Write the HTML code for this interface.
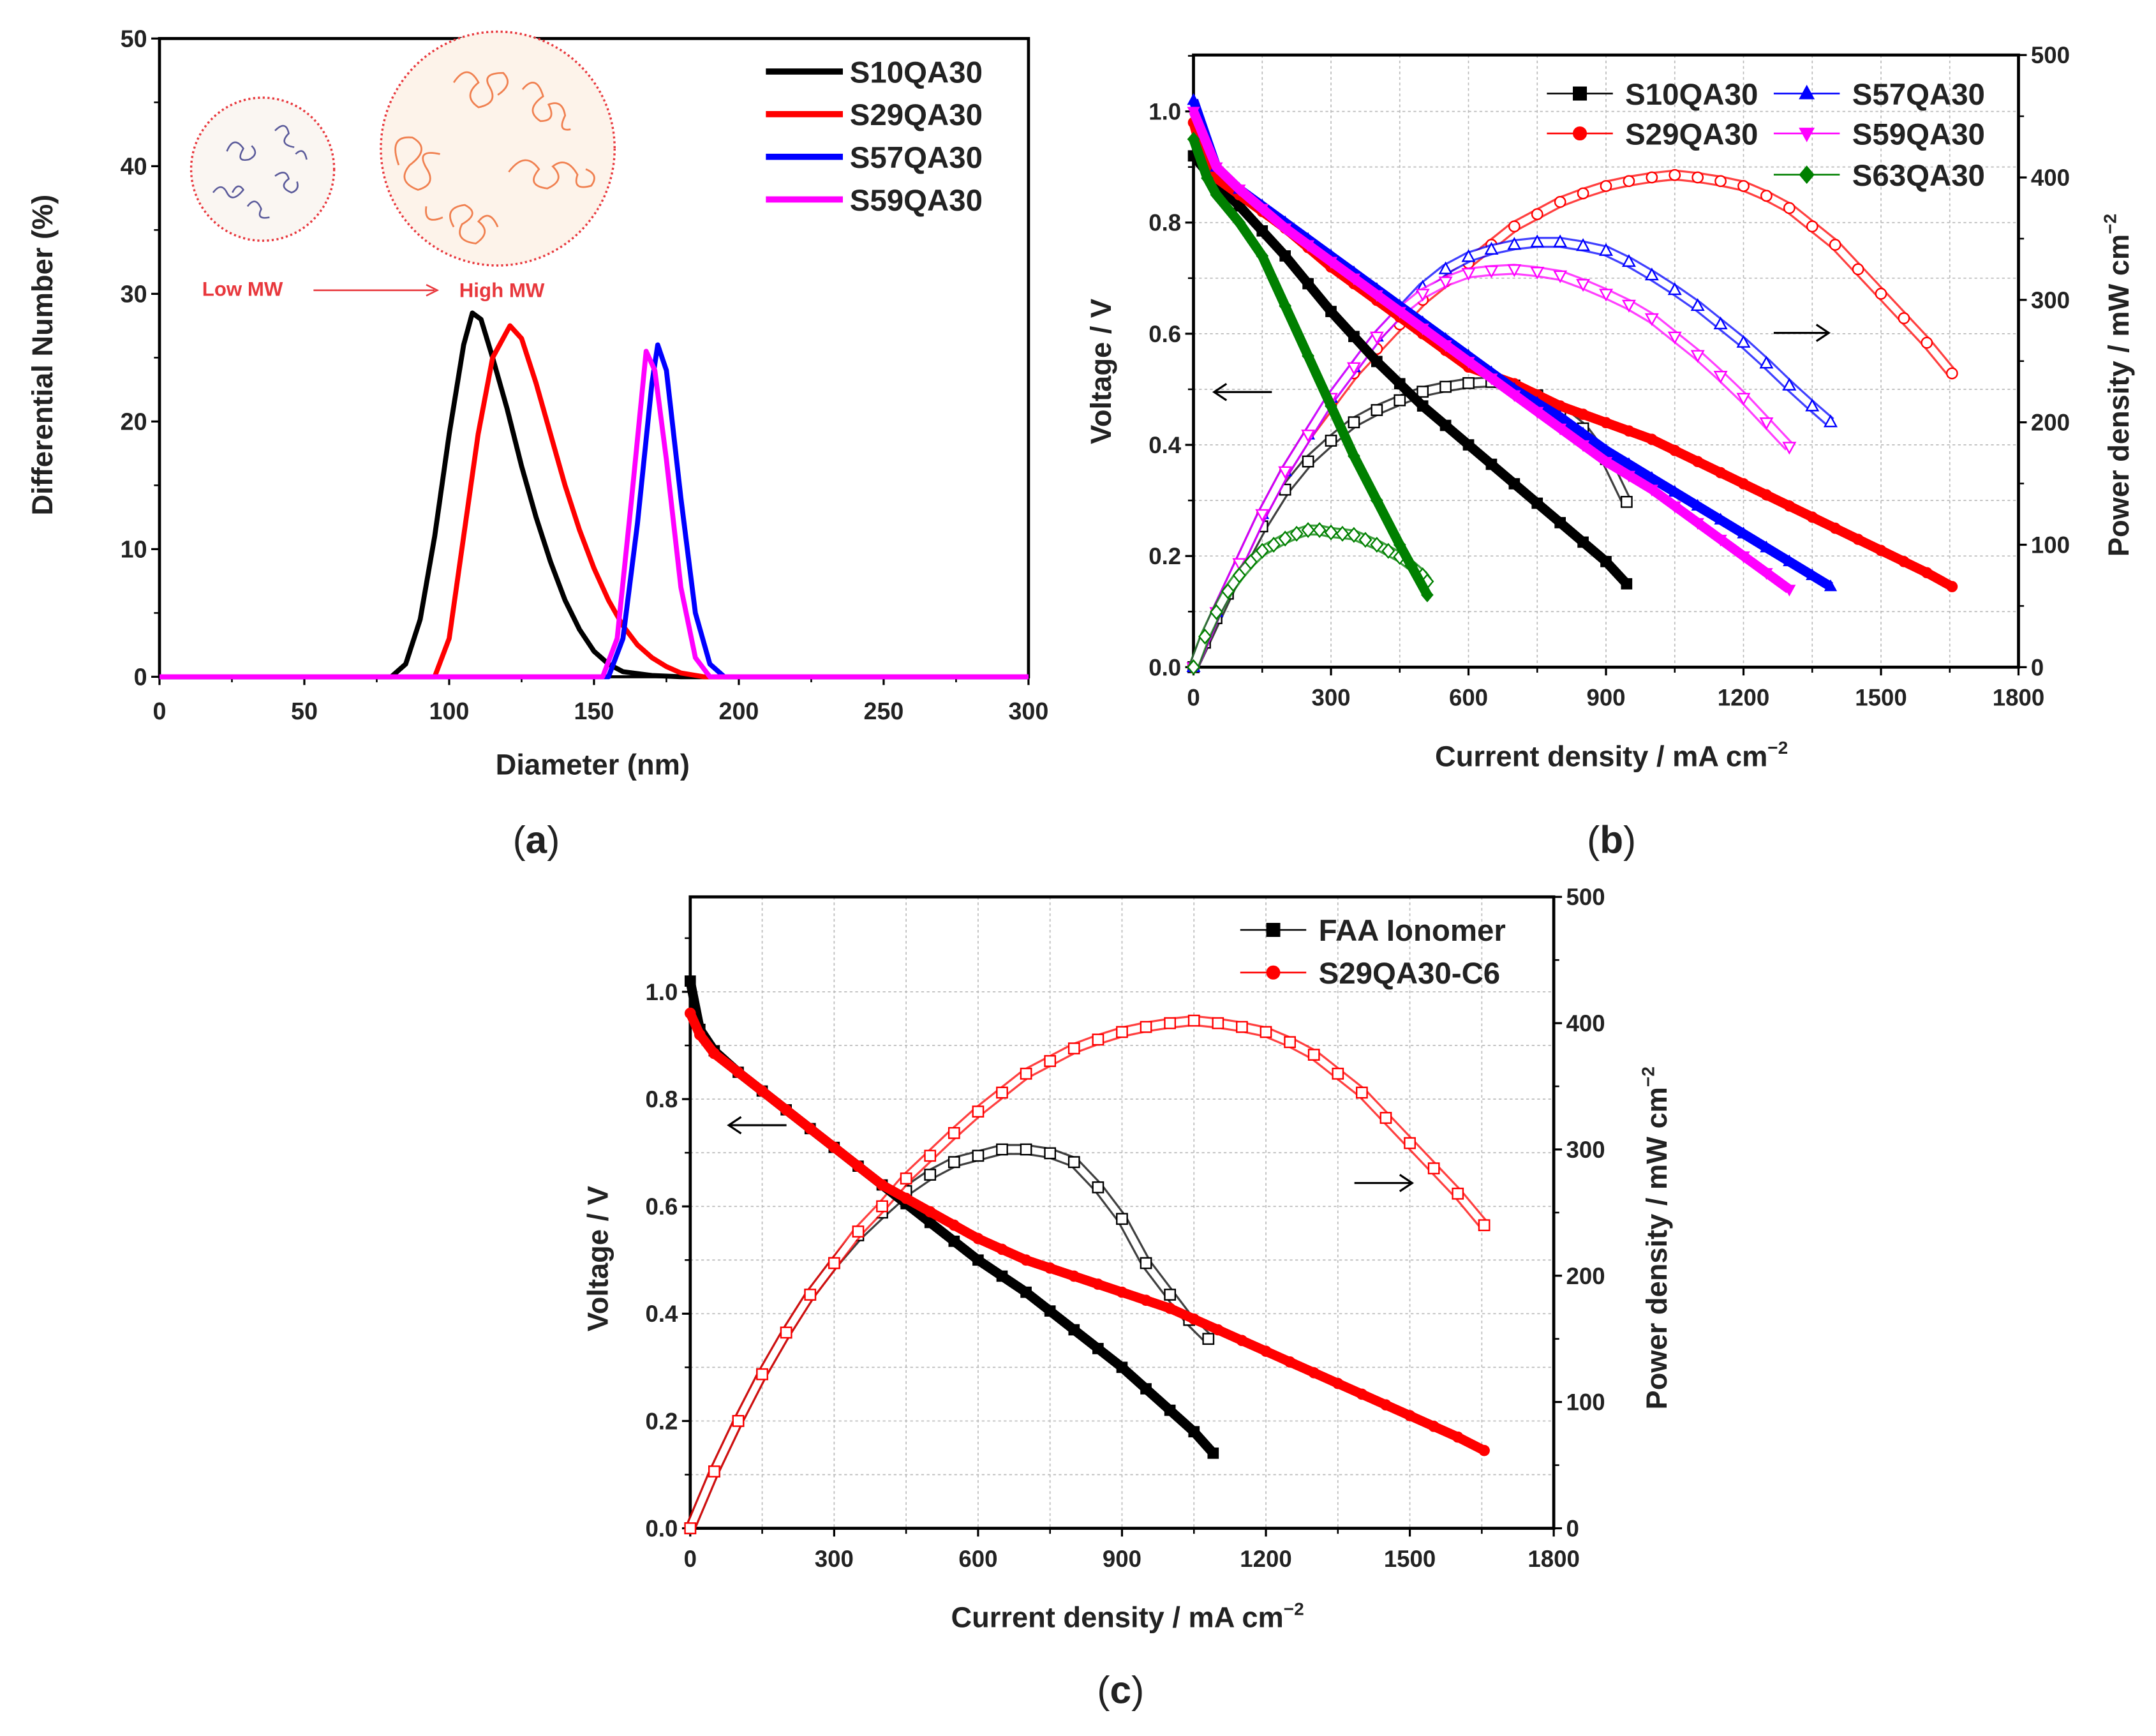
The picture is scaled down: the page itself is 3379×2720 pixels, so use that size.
<!DOCTYPE html>
<html><head><meta charset="utf-8"><style>
html,body{margin:0;padding:0;background:#fff}
svg{display:block}
text{font-family:"Liberation Sans",sans-serif}
</style></head><body>
<svg id="fig" xmlns="http://www.w3.org/2000/svg" width="3379" height="2720" viewBox="0 0 1568 1262" preserveAspectRatio="none">
<rect width="1568" height="1262" fill="#fff"/>
<g id="insets">
 <circle cx="191" cy="123" r="52" fill="#faf6f2" stroke="#e8383d" stroke-width="1.6" stroke-dasharray="1.5,2"/>
 <g fill="none" stroke="#5a5a9a" stroke-width="1.2">
  <path d="M165 110 q5 -12 12 -2 q-6 10 4 8 q8 -4 2 -10 M200 95 q8 -8 10 2 q-8 8 4 10 M155 140 q6 -8 10 0 q4 8 12 -2 q-4 -6 -8 2 M200 128 q8 -6 10 2 q-8 6 2 10 q6 -2 4 -8 M180 150 q6 -8 10 2 q-4 8 6 6 M215 112 q6 -6 8 4"/>
 </g>
 <circle cx="362" cy="108" r="85" fill="#fdf3ea" stroke="#e8383d" stroke-width="1.6" stroke-dasharray="1.5,2"/>
 <g fill="none" stroke="#f08050" stroke-width="1.3">
  <path d="M330 60 q10 -15 18 0 q-12 10 0 18 q15 -3 8 -15 q-6 -10 10 -10 q8 8 -4 16 M380 65 q10 -12 15 5 q-14 10 -2 18 q12 0 6 -12 q10 -4 12 8 q-6 12 4 10"/>
  <path d="M290 120 q-8 -22 10 -20 q14 8 -2 20 q-10 12 6 18 q14 -4 6 -16 q-8 -14 10 -10 M310 150 q-2 14 12 8"/>
  <path d="M370 125 q12 -16 22 -2 q-10 12 6 14 q14 -6 4 -16 q10 -8 18 6 q-4 12 10 8 q6 -8 -4 -12"/>
  <path d="M330 165 q-8 -14 8 -16 q12 6 -2 14 q-6 12 10 14 q12 -8 2 -16 q8 -10 14 4"/>
 </g>
 <text x="147" y="215" font-size="14.5" font-weight="bold" fill="#e8383d">Low MW</text>
 <line x1="228" y1="211" x2="316" y2="211" stroke="#e8383d" stroke-width="1.2"/>
 <path d="M310 207 L318 211 L310 215" fill="none" stroke="#e8383d" stroke-width="1.2"/>
 <text x="334" y="216" font-size="14.5" font-weight="bold" fill="#e8383d">High MW</text>
</g>
</svg>
<script>
// ---------- Panel (a) data ----------
const aNames = ["S10QA30","S29QA30","S57QA30","S59QA30"];
const aColors = ["#000000","#ff0000","#0000ff","#ff00ff"];
const aS10x = [0,80,85,90,95,100,105,108,111,115,120,125,130,135,140,145,150,155,160,170,180,300];
const aS10y = [0,0,1,4.5,11,19,26,28.5,28,25,21,16.5,12.5,9,6,3.7,2,1,0.4,0.1,0,0];
const aS29x = [0,95,100,105,110,115,121,125,130,135,140,145,150,155,160,165,170,175,180,188,300];
const aS29y = [0,0,3,11,19,25,27.5,26.5,23,19,15,11.5,8.5,6,4,2.5,1.5,0.8,0.3,0,0];
const aS57x = [0,155,160,165,170,172,175,180,185,190,195,300];
const aS57y = [0,0,3,12,23,26,24,14,5,1,0,0];
const aS59x = [0,153,158,163,168,171,175,180,185,190,300];
const aS59y = [0,0,3,14,25.5,24,17,7,1.5,0,0];
const aXTicks = [0,50,100,150,200,250,300];
const aYTicks = [0,10,20,30,40,50];

// ---------- Panel (b) data ----------
const bNames = ["S10QA30","S29QA30","S57QA30","S59QA30","S63QA30"];
const bColors = ["#000000","#ff0000","#0000ff","#ff00ff","#008000"];
const bMarkers = ["square","circle","up","down","diamond"];
const bS10I = [0,50,100,150,200,250,300,350,400,450,500,550,600,650,700,750,800,850,900,945];
const bS10V = [0.92,0.87,0.83,0.785,0.74,0.69,0.64,0.595,0.55,0.51,0.47,0.435,0.40,0.365,0.33,0.295,0.26,0.225,0.19,0.15];
const bS10PI = [0,25,50,75,100,150,200,250,300,350,400,450,500,550,600,650,700,750,800,850,900,945];
const bS10P = [0,20,40,60,80,115,145,168,185,200,210,218,225,229,232,233,230,222,210,195,170,135];
const bS29I = [0,20,50,100,150,200,250,300,350,400,450,500,550,600,650,700,750,800,850,900,950,1000,1050,1100,1150,1200,1250,1300,1350,1400,1450,1500,1550,1600,1655];
const bS29V = [0.98,0.92,0.88,0.85,0.82,0.79,0.755,0.72,0.69,0.66,0.63,0.60,0.57,0.54,0.525,0.51,0.49,0.47,0.455,0.44,0.425,0.41,0.39,0.37,0.35,0.33,0.31,0.29,0.27,0.25,0.23,0.21,0.19,0.17,0.145];
const bS29PI = [0,50,100,150,200,250,300,350,400,450,500,550,600,650,700,750,800,850,900,950,1000,1050,1100,1150,1200,1250,1300,1350,1400,1450,1500,1550,1600,1655];
const bS29P = [0,45,85,125,160,190,215,240,260,280,300,315,330,345,360,370,380,387,393,397,400,402,400,397,393,385,375,360,345,325,305,285,265,240];
const bS57I = [0,50,100,150,200,250,300,350,400,450,500,550,600,650,700,750,800,850,900,950,1000,1050,1100,1150,1200,1250,1300,1350,1390];
const bS57V = [1.02,0.9,0.86,0.83,0.8,0.77,0.74,0.71,0.68,0.65,0.62,0.59,0.56,0.53,0.50,0.475,0.45,0.42,0.39,0.365,0.34,0.315,0.29,0.265,0.24,0.215,0.19,0.165,0.145];
const bS57PI = [0,50,100,150,200,250,300,350,400,450,500,550,600,650,700,750,800,850,900,950,1000,1050,1100,1150,1200,1250,1300,1350,1390];
const bS57P = [0,45,85,125,160,190,220,245,270,290,310,325,335,341,345,347,347,344,340,331,320,308,295,280,265,248,230,213,200];
const bS59I = [0,50,100,150,200,250,300,350,400,450,500,550,600,650,700,750,800,850,900,950,1000,1050,1100,1150,1200,1250,1300];
const bS59V = [1.0,0.9,0.86,0.825,0.79,0.76,0.73,0.70,0.67,0.64,0.61,0.58,0.55,0.52,0.49,0.46,0.43,0.40,0.37,0.345,0.32,0.29,0.26,0.23,0.20,0.17,0.14];
const bS59PI = [0,50,100,150,200,250,300,350,400,450,500,550,600,650,700,750,800,850,900,950,1000,1050,1100,1150,1200,1250,1300];
const bS59P = [0,45,85,125,160,190,220,245,270,290,305,315,322,324,325,323,320,313,305,296,285,270,255,238,220,200,180];
const bS63I = [0,30,50,100,150,200,250,300,350,400,450,510];
const bS63V = [0.95,0.88,0.85,0.80,0.74,0.65,0.56,0.47,0.38,0.30,0.22,0.13];
const bS63PI = [0,25,50,75,100,125,150,175,200,225,250,275,300,325,350,375,400,425,450,475,500,510];
const bS63P = [0,25,45,62,75,86,95,100,105,109,112,112,110,109,108,104,100,95,90,83,75,70];
const bXTicks = [0,300,600,900,1200,1500,1800];
const bVTicks = [0.0,0.2,0.4,0.6,0.8,1.0];
const bPTicks = [0,100,200,300,400,500];

// ---------- Panel (c) data ----------
const cNames = ["FAA Ionomer","S29QA30-C6"];
const cColors = ["#000000","#ff0000"];
const cFAAI = [0,20,50,100,150,200,250,300,350,400,450,500,550,600,650,700,750,800,850,900,950,1000,1050,1090];
const cFAAV = [1.02,0.93,0.89,0.85,0.815,0.78,0.745,0.71,0.675,0.64,0.605,0.57,0.535,0.50,0.47,0.44,0.405,0.37,0.335,0.30,0.26,0.22,0.18,0.14];
const cFAAPI = [0,50,100,150,200,250,300,350,400,450,500,550,600,650,700,750,800,850,900,950,1000,1040,1080];
const cFAAP = [0,45,85,122,155,185,210,232,250,267,280,290,295,300,300,297,290,270,245,210,185,165,150];
const cC6I = [0,20,50,100,150,200,250,300,350,400,450,500,550,600,650,700,750,800,850,900,950,1000,1050,1100,1150,1200,1250,1300,1350,1400,1450,1500,1550,1600,1655];
const cC6V = [0.96,0.92,0.885,0.85,0.815,0.78,0.745,0.71,0.675,0.64,0.615,0.59,0.565,0.54,0.52,0.50,0.485,0.47,0.455,0.44,0.425,0.41,0.39,0.37,0.35,0.33,0.31,0.29,0.27,0.25,0.23,0.21,0.19,0.17,0.145];
const cC6PI = [0,50,100,150,200,250,300,350,400,450,500,550,600,650,700,750,800,850,900,950,1000,1050,1100,1150,1200,1250,1300,1350,1400,1450,1500,1550,1600,1655];
const cC6P = [0,45,85,122,155,185,210,235,255,277,295,313,330,345,360,370,380,387,393,397,400,402,400,397,393,385,375,360,345,325,305,285,265,240];
const cXTicks = [0,300,600,900,1200,1500,1800];
const cVTicks = [0.0,0.2,0.4,0.6,0.8,1.0];
const cPTicks = [0,100,200,300,400,500];

const NS = "http://www.w3.org/2000/svg";
const svg = document.getElementById("fig");
function mk(tag, attrs, parent){
  const e = document.createElementNS(NS, tag);
  for (const k in attrs) e.setAttribute(k, attrs[k]);
  (parent||svg).appendChild(e);
  return e;
}
function txt(x,y,s,size,anchor,parent,weight){
  const t = mk("text",{x:x,y:y,"font-size":size,"text-anchor":anchor||"start","font-weight":weight||"bold",fill:"#222"},parent);
  t.textContent = s;
  return t;
}
function poly(xs,ys,fx,fy){return xs.map((v,i)=>fx(v).toFixed(2)+","+fy(ys[i]).toFixed(2)).join(" ");}
function marker(g,type,x,y,r,color,filled){
  const fill = filled?color:"#fff", st = {fill:fill,stroke:color,"stroke-width":filled?0.6:1.1};
  let e;
  if(type==="square") e = mk("rect",Object.assign({x:x-r,y:y-r,width:2*r,height:2*r},st),g);
  else if(type==="circle") e = mk("circle",Object.assign({cx:x,cy:y,r:r},st),g);
  else if(type==="up") e = mk("polygon",Object.assign({points:`${x},${y-r*1.2} ${x-r*1.1},${y+r*0.8} ${x+r*1.1},${y+r*0.8}`},st),g);
  else if(type==="down") e = mk("polygon",Object.assign({points:`${x},${y+r*1.2} ${x-r*1.1},${y-r*0.8} ${x+r*1.1},${y-r*0.8}`},st),g);
  else e = mk("polygon",Object.assign({points:`${x},${y-r*1.3} ${x+r*1.1},${y} ${x},${y+r*1.3} ${x-r*1.1},${y}`},st),g);
  return e;
}

// ================= Panel A =================
(function(){
  const L=116,R=748,T=28,B=492;
  const xa = v=>L+v*(R-L)/300, ya = v=>B-v*(B-T)/50;
  const g = mk("g",{});
  
  
  svg.insertBefore(g, document.getElementById("insets"));
  const frame = mk("rect",{x:L,y:T,width:R-L,height:B-T,fill:"none",stroke:"#000","stroke-width":2.2},g);
  
  
  aXTicks.forEach((v,i)=>{
    mk("line",{x1:xa(v),y1:B,x2:xa(v),y2:B+6,stroke:"#000","stroke-width":1.5},g);
    if(i<aXTicks.length-1) mk("line",{x1:xa(v+25),y1:B,x2:xa(v+25),y2:B+4,stroke:"#000","stroke-width":1.2},g);
    const t = txt(xa(v),B+31,String(v),17.5,"middle",g);
    
    
  });
  aYTicks.forEach((v,i)=>{
    mk("line",{x1:L-6,y1:ya(v),x2:L,y2:ya(v),stroke:"#000","stroke-width":1.5},g);
    if(i<aYTicks.length-1) mk("line",{x1:L-4,y1:ya(v+5),x2:L,y2:ya(v+5),stroke:"#000","stroke-width":1.2},g);
    const t = txt(L-9,ya(v)+6,String(v),17.5,"end",g);
    
    
  });
  const xt = txt(431,563,"Diameter (nm)",21,"middle",g);
  
  
  const yt = txt(0,0,"Differential Number (%)",21,"middle",g);
  yt.setAttribute("transform","translate(38,258) rotate(-90)");
  
  
  const xs=[aS10x,aS29x,aS57x,aS59x], ys=[aS10y,aS29y,aS57y,aS59y];
  xs.forEach((x,k)=>{
    const p = mk("polyline",{points:poly(x,ys[k],xa,ya),fill:"none",stroke:aColors[k],"stroke-width":3.6,"stroke-linejoin":"round"},g);
    
    
  });
  aNames.forEach((n,k)=>{
    const y=52+k*31;
    const le = mk("g",{},g);
    
    
    mk("line",{x1:557,y1:y,x2:613,y2:y,stroke:aColors[k],"stroke-width":4.5},le);
    txt(618,y+8,n,22,"start",le);
  });
  const lab = txt(390,620,"",28,"middle",g,"normal");
  lab.setAttribute("font-family","Liberation Serif, serif");
  lab.innerHTML = '(<tspan font-weight="bold">a</tspan>)';
  
  
})();

// ============== Fuel cell panel builder ==============
function fcPanel(o){
  const {L,R,T,B,V1,name} = o;
  const xf = v=>L+v*(R-L)/1800, vf = v=>B-v*(B-V1), pf = v=>B-v*(B-T)/500;
  const g = mk("g",{});
  
  
  const grid = mk("g",{stroke:"#bbb","stroke-width":0.8,"stroke-dasharray":"2,2"},g);
  
  
  o.xTicks.forEach(v=>{ if(v>0&&v<1800){ mk("line",{x1:xf(v),y1:T,x2:xf(v),y2:B},grid); mk("line",{x1:xf(v-150),y1:T,x2:xf(v-150),y2:B},grid);} });
  mk("line",{x1:xf(1650),y1:T,x2:xf(1650),y2:B},grid);
  [0.1,0.2,0.3,0.4,0.5,0.6,0.7,0.8,0.9,1.0].forEach(v=>mk("line",{x1:L,y1:vf(v),x2:R,y2:vf(v)},grid));
  const frame = mk("rect",{x:L,y:T,width:R-L,height:B-T,fill:"none",stroke:"#000","stroke-width":2.2},g);
  
  
  o.xTicks.forEach((v,i)=>{
    mk("line",{x1:xf(v),y1:B,x2:xf(v),y2:B+6,stroke:"#000","stroke-width":1.5},g);
    if(i<o.xTicks.length-1) mk("line",{x1:xf(v+150),y1:B,x2:xf(v+150),y2:B+4,stroke:"#000","stroke-width":1.2},g);
    const t = txt(xf(v),B+28,String(v),17,"middle",g);
    
    
  });
  o.vTicks.forEach(v=>{
    mk("line",{x1:L-6,y1:vf(v),x2:L,y2:vf(v),stroke:"#000","stroke-width":1.5},g);
    mk("line",{x1:L-4,y1:vf(v+0.1),x2:L,y2:vf(v+0.1),stroke:"#000","stroke-width":1.2},g);
    const t = txt(L-9,vf(v)+6,v.toFixed(1),17,"end",g);
    
    
  });
  o.pTicks.forEach((v,i)=>{
    mk("line",{x1:R,y1:pf(v),x2:R+6,y2:pf(v),stroke:"#000","stroke-width":1.5},g);
    if(i<o.pTicks.length-1) mk("line",{x1:R,y1:pf(v+50),x2:R+4,y2:pf(v+50),stroke:"#000","stroke-width":1.2},g);
    const t = txt(R+9,pf(v)+6,String(v),17,"start",g);
    
    
  });
  const xt = txt((L+R)/2+4,B+72,"",21,"middle",g);
  xt.innerHTML = 'Current density / mA cm<tspan dy="-9" font-size="13">−2</tspan>';
  
  
  const yt = txt(0,0,"Voltage / V",21,"middle",g);
  yt.setAttribute("transform",`translate(${o.ytX},${o.ytY}) rotate(-90)`);
  
  
  const pt = txt(0,0,"",21,"middle",g);
  pt.innerHTML = 'Power density / mW cm<tspan dy="-9" font-size="13">−2</tspan>';
  pt.setAttribute("transform",`translate(${o.ptX},${o.ptY}) rotate(-90)`);
  
  
  o.series.forEach(s=>{
    const pg = mk("g",{},g);
    
    
    const pts = poly(s.PI,s.P,xf,pf);
    mk("polyline",{points:pts,fill:"none",stroke:s.c,"stroke-width":8,"stroke-opacity":0.75,"stroke-linejoin":"round"},pg);
    mk("polyline",{points:pts,fill:"none",stroke:"#fff","stroke-width":5,"stroke-linejoin":"round"},pg);
    s.PI.forEach((x,i)=>marker(pg,o.openMarker||s.m,xf(x),pf(s.P[i]),3.8,s.c,false));
  });
  o.series.forEach(s=>{
    const sg = mk("g",{},g);
    
    
    mk("polyline",{points:poly(s.I,s.V,xf,vf),fill:"none",stroke:s.c,"stroke-width":7,"stroke-linejoin":"round"},sg);
    s.I.forEach((x,i)=>marker(sg,s.m,xf(x),vf(s.V[i]),3.8,s.c,true));
  });
  o.arrows.forEach(a=>{
    const ag = mk("g",{fill:"none",stroke:"#000","stroke-width":1.5},g);
    
    
    mk("line",{x1:a.x1,y1:a.y,x2:a.x2,y2:a.y},ag);
    const tip = a.dir<0?a.x1:a.x2, d = a.dir<0?9:-9;
    mk("path",{d:`M${tip+d} ${a.y-6} L${tip} ${a.y} L${tip+d} ${a.y+6}`},ag);
  });
  o.legend.forEach(e=>{
    const s=o.series[e.k];
    const le = mk("g",{},g);
    
    
    mk("line",{x1:e.x-24,y1:e.y,x2:e.x+24,y2:e.y,stroke:s.c,"stroke-width":1.2},le);
    marker(le,s.m,e.x,e.y,4.8,s.c,true);
    txt(e.x+33,e.y+8,s.n,22,"start",le);
  });
  const lab = txt(o.labX,o.labY,"",28,"middle",g,"normal");
  lab.setAttribute("font-family","Liberation Serif, serif");
  lab.innerHTML = '(<tspan font-weight="bold">'+name+'</tspan>)';
  
  
}

fcPanel({name:"b",L:868,R:1468,T:40,B:485,V1:81,xTicks:bXTicks,vTicks:bVTicks,pTicks:bPTicks,
  ytX:808,ytY:270,ptX:1548,ptY:280,labX:1172,labY:620,
  series:[
    {n:bNames[0],c:bColors[0],m:bMarkers[0],I:bS10I,V:bS10V,PI:bS10PI,P:bS10P},
    {n:bNames[1],c:bColors[1],m:bMarkers[1],I:bS29I,V:bS29V,PI:bS29PI,P:bS29P},
    {n:bNames[2],c:bColors[2],m:bMarkers[2],I:bS57I,V:bS57V,PI:bS57PI,P:bS57P},
    {n:bNames[3],c:bColors[3],m:bMarkers[3],I:bS59I,V:bS59V,PI:bS59PI,P:bS59P},
    {n:bNames[4],c:bColors[4],m:bMarkers[4],I:bS63I,V:bS63V,PI:bS63PI,P:bS63P}],
  arrows:[{x1:883,x2:925,y:285,dir:-1},{x1:1290,x2:1330,y:242,dir:1}],
  legend:[{k:0,x:1149,y:68},{k:1,x:1149,y:97},{k:2,x:1314,y:68},{k:3,x:1314,y:97},{k:4,x:1314,y:127}]
});
fcPanel({name:"c",L:502,R:1130,T:652,B:1111,V1:721,xTicks:cXTicks,vTicks:cVTicks,pTicks:cPTicks,
  ytX:442,ytY:915,ptX:1212,ptY:900,labX:815,labY:1238,openMarker:"square",
  series:[
    {n:cNames[0],c:cColors[0],m:"square",I:cFAAI,V:cFAAV,PI:cFAAPI,P:cFAAP},
    {n:cNames[1],c:cColors[1],m:"circle",I:cC6I,V:cC6V,PI:cC6PI,P:cC6P}],
  arrows:[{x1:530,x2:572,y:818,dir:-1},{x1:985,x2:1027,y:860,dir:1}],
  legend:[{k:0,x:926,y:676},{k:1,x:926,y:707}]
});
</script>
</body></html>
